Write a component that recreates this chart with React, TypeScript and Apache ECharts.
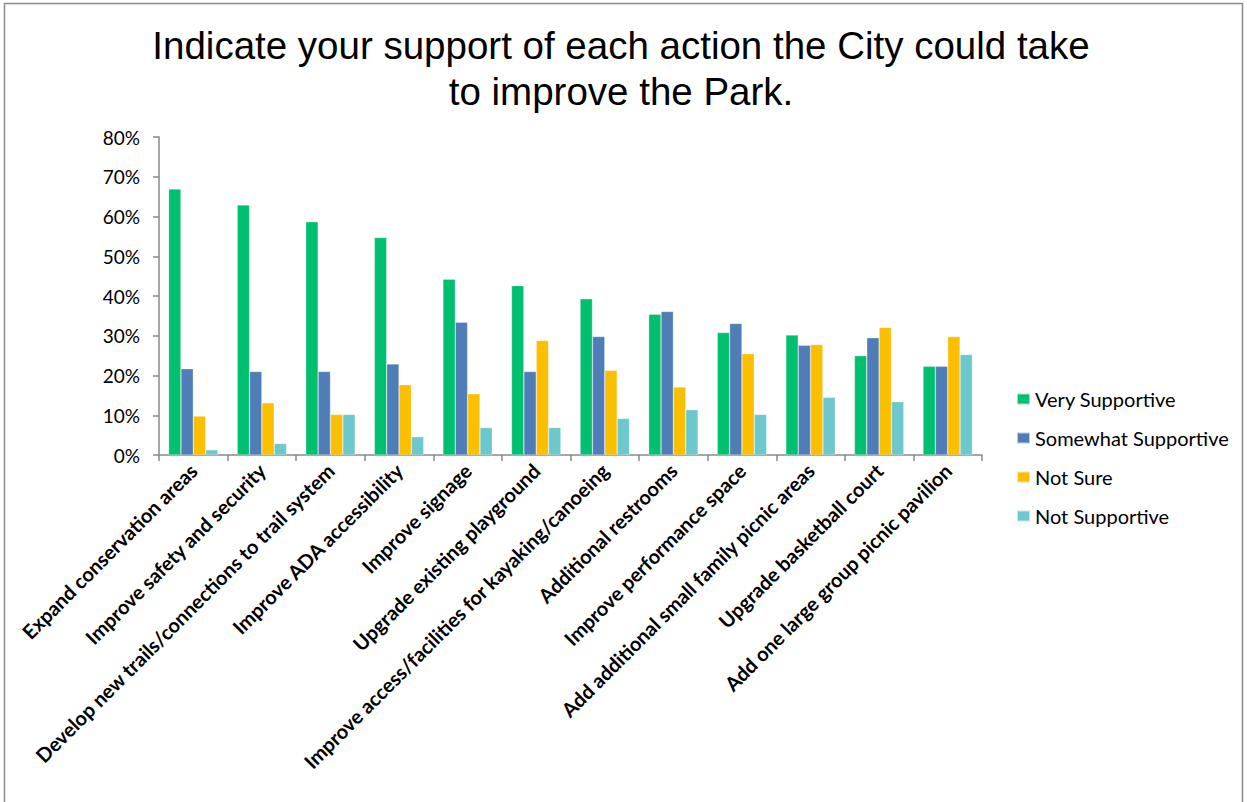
import React, { useEffect, useRef } from "react";
import * as echarts from "echarts";

const categories = [
  "Expand conservation areas",
  "Improve safety and security",
  "Develop new trails/connections to trail system",
  "Improve ADA accessibility",
  "Improve signage",
  "Upgrade existing playground",
  "Improve access/facilities for kayaking/canoeing",
  "Additional restrooms",
  "Improve performance space",
  "Add additional small family picnic areas",
  "Upgrade basketball court",
  "Add one large group picnic pavilion",
];

const verySupportive = [66.9, 62.9, 58.7, 54.7, 44.2, 42.6, 39.3, 35.4, 30.8, 30.2, 25.0, 22.3];
const somewhatSupportive = [21.7, 21.0, 21.0, 22.9, 33.4, 21.0, 29.8, 36.1, 33.1, 27.6, 29.5, 22.3];
const notSure = [9.8, 13.1, 10.2, 17.7, 15.4, 28.8, 21.3, 17.1, 25.5, 27.8, 32.1, 29.8];
const notSupportive = [1.3, 2.9, 10.2, 4.6, 6.9, 6.9, 9.2, 11.4, 10.2, 14.5, 13.4, 25.3];

const seriesNames = ["Very Supportive", "Somewhat Supportive", "Not Sure", "Not Supportive"];
const seriesColors = ["#00bf6f", "#4f7db8", "#f9bf00", "#6cc8cc"];

const titleLines = ["Indicate your support of each action the City could take", "to improve the Park."];

export default function App() {
  const ref = useRef<HTMLDivElement>(null);
  useEffect(() => {
    if (!ref.current) return;
    const chart = echarts.init(ref.current, undefined, { renderer: "svg" });
    const data = [verySupportive, somewhatSupportive, notSure, notSupportive];
    chart.setOption({
      animation: false,
      backgroundColor: "#ffffff",
      textStyle: { fontFamily: "Lato, 'Open Sans', sans-serif" },
      title: {
        text: titleLines.join("\n"),
        left: 616,
        textAlign: "center",
        top: 17,
        textStyle: {
          fontFamily: "'Liberation Sans Narrow', 'Liberation Sans', Arial, sans-serif",
          fontSize: 38.5,
          fontWeight: "normal",
          color: "#000",
          lineHeight: 46,
        },
      },
      graphic: [
        {
          type: "rect",
          shape: { x: 4.5, y: 3.5, width: 1238, height: 820 },
          style: { fill: "none", stroke: "#8c8c8c", lineWidth: 1.5 },
        },
      ],
      legend: {
        orient: "vertical",
        left: 1011,
        top: 384,
        itemWidth: 13,
        itemHeight: 11,
        itemGap: 19,
        icon: "rect",
        textStyle: { fontSize: 20, color: "#000", fontFamily: "Lato, 'Open Sans', sans-serif", lineHeight: 20 },
        data: seriesNames,
      },
      grid: { left: 159, right: 1247 - 982, top: 137, bottom: 802 - 455, containLabel: false },
      xAxis: {
        type: "category",
        data: categories,
        axisLine: { lineStyle: { color: "#898989", width: 1.5 } },
        axisTick: { show: true, length: 6, lineStyle: { color: "#898989", width: 1.5 } },
        axisLabel: {
          interval: 0,
          rotate: 45,
          fontSize: 20,
          fontWeight: "bold",
          color: "#000",
          margin: 12,
          fontFamily: "Lato, 'Open Sans', sans-serif",
        },
      },
      yAxis: {
        type: "value",
        min: 0,
        max: 80,
        interval: 10,
        splitLine: { show: false },
        axisLine: { show: true, lineStyle: { color: "#898989", width: 1.5 } },
        axisTick: { show: true, length: 6, lineStyle: { color: "#898989", width: 1.5 } },
        axisLabel: {
          formatter: "{value}%",
          fontSize: 19,
          color: "#000",
          margin: 19,
          fontFamily: "Lato, 'Open Sans', sans-serif",
        },
      },
      series: seriesNames.map((name, i) => ({
        name,
        type: "bar",
        data: data[i],
        barGap: "0%",
        barCategoryGap: "28%",
        itemStyle: { color: seriesColors[i], borderColor: "rgba(255,255,255,0.6)", borderWidth: 0.5 },
      })),
    });
    return () => chart.dispose();
  }, []);
  return (
    <div
      ref={ref}
      style={{ position: "absolute", left: 0, top: 0, width: 1247, height: 802 }}
    />
  );
}
